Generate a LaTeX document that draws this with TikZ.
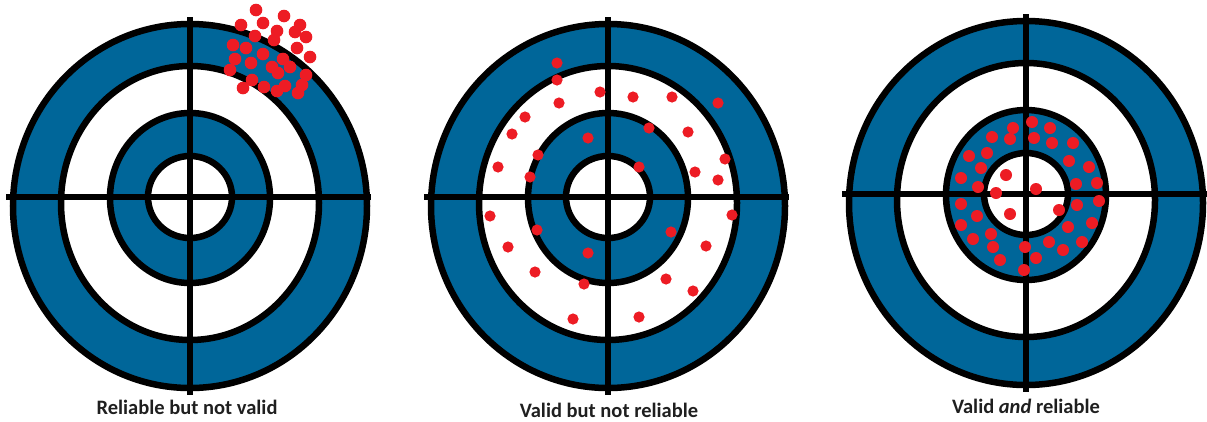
\documentclass[tikz,border=0pt]{standalone}
\usepackage{fontspec}
\setmainfont{Carlito}
\usetikzlibrary{positioning}
\definecolor{targetblue}{RGB}{0,102,153}
\definecolor{hitred}{RGB}{237,28,36}

\begin{document}
\begin{tikzpicture}[
        x=1pt, y=-1pt,
        ring/.style={draw=black, line width=6.5pt},
        cross/.style={draw=black, line width=6.5pt},
        hit/.style={fill=hitred},
        caption/.style={font=\fontsize{20.5}{23}\selectfont\bfseries, text=black!88, inner sep=0pt}
    ]
    \useasboundingbox (0,0) rectangle (1207,421);

    % the three targets
    \foreach \cx/\cy in {190/197, 608/197, 1026/194} {
        \fill[targetblue] (\cx,\cy+9) ellipse [x radius=177pt, y radius=182pt];
        \fill[white] (\cx,\cy+6) ellipse [x radius=129pt, y radius=137pt];
        \fill[targetblue] (\cx,\cy+1) ellipse [x radius=80pt, y radius=85pt];
        \fill[white] (\cx,\cy) ellipse [x radius=42pt, y radius=41pt];
        \draw[ring] (\cx,\cy+9) ellipse [x radius=177pt, y radius=182pt];
        \draw[ring] (\cx,\cy+6) ellipse [x radius=129pt, y radius=137pt];
        \draw[ring] (\cx,\cy+1) ellipse [x radius=80pt, y radius=85pt];
        \draw[ring] (\cx,\cy) ellipse [x radius=42pt, y radius=41pt];
        \draw[cross] (\cx-184,\cy) -- (\cx+181,\cy);
        \draw[cross] (\cx,\cy-180) -- (\cx,\cy+198);
    }

    % hits: reliable but not valid
    \foreach \x/\y in {256/10, 284/16, 263/23, 241/25, 300/25, 277/31, 295/32, 255/36,
        306/37, 274/40, 233/45, 246/48, 297/48, 263/54, 310/57, 235/59, 283/59,
        251/63, 272/67, 290/67, 230/70, 278/73, 306/75, 252/80, 302/85, 264/87,
        285/86, 243/88, 277/91, 298/93}
        \fill[hit] (\x,\y) circle (6.3pt);

    % hits: valid but not reliable
    \foreach \x/\y in {557/63, 557/80, 600/92, 633/97, 672/97, 718/103, 559/103,
        525/117, 649/128, 688/132, 512/134, 588/138, 538/155, 725/159, 498/167,
        639/167, 695/172, 530/177, 718/180, 490/216, 732/215, 537/230, 671/232,
        508/247, 706/246, 588/253, 535/272, 666/279, 584/284, 693/291, 573/319,
        639/317}
        \fill[hit] (\x,\y) circle (5.6pt);

    % hits: valid and reliable
    \foreach \x/\y in {1032/122, 1013/128, 1050/128, 992/137, 1010/139, 1034/138,
        1052/143, 1073/143, 987/153, 969/156, 1069/161, 981/168, 1089/167,
        1006/175, 961/178, 1076/184, 1097/183, 978/187, 996/193, 1036/189,
        1099/201, 961/204, 1077/205, 1059/210, 1010/214, 977/216, 961/225,
        1068/227, 1092/223, 991/234, 973/239, 1049/242, 1082/242, 993/247,
        1025/247, 1063/250, 1036/258, 1000/260, 1024/270}
        \fill[hit] (\x,\y) circle (6pt);

    \node[caption] (reliable_label) at (187,407) {Reliable but not valid};
    \node[caption] (valid_label) at (609,410) {Valid but not reliable};
    \node[caption] (both_label) at (1026,406) {Valid \textit{and} reliable};
\end{tikzpicture}
\end{document}
